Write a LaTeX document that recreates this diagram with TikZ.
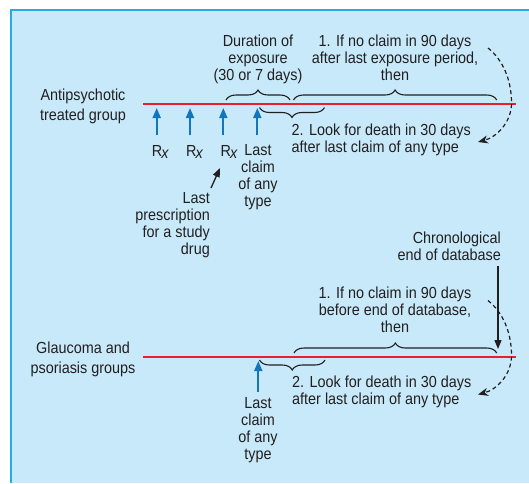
\documentclass[tikz,border=0pt]{standalone}
\usepackage{fontspec}
\setmainfont[FakeStretch=0.9]{Liberation Sans}
\usetikzlibrary{arrows.meta,decorations.pathreplacing}
\definecolor{bgblue}{RGB}{199,233,249}
\definecolor{frameblue}{RGB}{40,170,226}
\definecolor{txt}{RGB}{35,31,32}
\definecolor{rxblue}{RGB}{18,118,190}
\definecolor{tlred}{RGB}{232,32,44}
\newcommand\rxsym{R\kern-1pt\raisebox{-2.8pt}{\itshape x}}
\begin{document}
\begin{tikzpicture}[x=1pt,y=-1pt,
  lbl/.style={font=\fontsize{16}{17}\selectfont, text=txt, inner sep=0pt, align=center, anchor=base},
  grplbl/.style={font=\fontsize{16}{20}\selectfont, text=txt, inner sep=0pt, align=center, anchor=base},
  timeline/.style={draw=tlred, line width=2pt},
  rxarrow/.style={draw=rxblue, line width=1.8pt, -{Triangle[length=10pt,width=8pt]}},
  blkarrow/.style={draw=txt, line width=1.3pt, -{Triangle[length=9pt,width=7pt]}},
  loop/.style={draw=txt, line width=1.2pt, dash pattern=on 4pt off 3pt, -{Stealth[length=10pt,width=8pt,inset=3pt]}},
  bup/.style={draw=txt, line width=1.1pt, decorate, decoration={brace,amplitude=10pt}},
  bdown/.style={draw=txt, line width=1.1pt, decorate, decoration={brace,amplitude=10pt,mirror}}]
\useasboundingbox (0,0) rectangle (529,483);
% background panel
\fill[bgblue] (11,9.5) rectangle (529,483);
\draw[frameblue, line width=2pt] (11,483) -- (11,9.5) -- (529,9.5);

% ---------- upper group ----------
% (multi-line nodes: base anchor = baseline of last line)
\coordinate (t1s) at (143,104);
\coordinate (t1e) at (515.5,104);
\draw[timeline] (t1s) -- (t1e);

\node[grplbl] (grp1) at (83,120) {Antipsychotic\\treated group};
\node[lbl] (dur) at (258,80) {Duration of\\exposure\\(30 or 7 days)};
\node[lbl] (s1a) at (395,80) {1. If no claim in 90 days\\after last exposure period,\\then};
\node[lbl, anchor=base west, align=left] (s2a) at (291.5,152) {2. Look for death in 30 days\\after last claim of any type};

% braces
\coordinate (b1l) at (226,100);  \coordinate (b1r) at (290,100);
\coordinate (b2l) at (293.5,100); \coordinate (b2r) at (496.7,100);
\coordinate (b3l) at (259.5,107.5); \coordinate (b3r) at (324.5,107.5);
\draw[bup] (b1l) -- (b1r);
\draw[bup] (b2l) -- (b2r);
\draw[bdown] (b3l) -- (b3r);

% Rx arrows
\node[lbl, anchor=base west] (rx1) at (151.7,156) {\rxsym};
\node[lbl, anchor=base west] (rx2) at (186,156) {\rxsym};
\node[lbl, anchor=base west] (rx3) at (220.5,156) {\rxsym};
\node[lbl] (last1) at (258,206) {Last\\claim\\of any\\type};
\coordinate (a1b) at (156.7,135); \coordinate (a1t) at (156.7,108);
\coordinate (a2b) at (190,135);   \coordinate (a2t) at (190,108);
\coordinate (a3b) at (223.3,135); \coordinate (a3t) at (223.3,108);
\coordinate (a4b) at (257.3,135); \coordinate (a4t) at (257.3,108);
\draw[rxarrow] (a1b) -- (a1t);
\draw[rxarrow] (a2b) -- (a2t);
\draw[rxarrow] (a3b) -- (a3t);
\draw[rxarrow] (a4b) -- (a4t);

\node[lbl, anchor=base east, align=right] (lastp) at (210,254) {Last\\prescription\\for a study\\drug};
\coordinate (lpt) at (211,188);
\coordinate (lph) at (220,168);
\draw[blkarrow] (lpt) -- (lph);

% dashed loop
\coordinate (l1s) at (488,48);
\coordinate (l1e) at (478,142);
\draw[loop] (l1s) .. controls (503,60) and (511.5,80) .. (511.5,103)
  .. controls (511.5,122) and (497,137) .. (l1e);

% ---------- lower group ----------
\coordinate (t2s) at (143,356.5);
\coordinate (t2e) at (515.5,356.5);
\draw[timeline] (t2s) -- (t2e);

\node[grplbl] (grp2) at (83,373.3) {Glaucoma and\\psoriasis groups};
\node[lbl, anchor=base east, align=right] (chrono) at (501,260.5) {Chronological\\end of database};
\node[lbl] (s1b) at (395,332.5) {1. If no claim in 90 days\\before end of database,\\then};
\node[lbl, anchor=base west, align=left] (s2b) at (292,404.3) {2. Look for death in 30 days\\after last claim of any type};
\node[lbl] (last2) at (258,459.5) {Last\\claim\\of any\\type};

\coordinate (b4l) at (294,353); \coordinate (b4r) at (496.7,353);
\coordinate (b5l) at (259.5,360); \coordinate (b5r) at (325,360);
\draw[bup] (b4l) -- (b4r);
\draw[bdown] (b5l) -- (b5r);

\coordinate (cht) at (498,265.5);
\coordinate (chh) at (498,349);
\draw[blkarrow] (cht) -- (chh);

\coordinate (a5b) at (258.3,391.7); \coordinate (a5t) at (258.3,361);
\draw[rxarrow] (a5b) -- (a5t);

\coordinate (l2s) at (488,300.5);
\coordinate (l2e) at (478,394.5);
\draw[loop] (l2s) .. controls (503,312.5) and (511.5,332.5) .. (511.5,355.5)
  .. controls (511.5,374.5) and (497,389.5) .. (l2e);
\end{tikzpicture}
\end{document}
